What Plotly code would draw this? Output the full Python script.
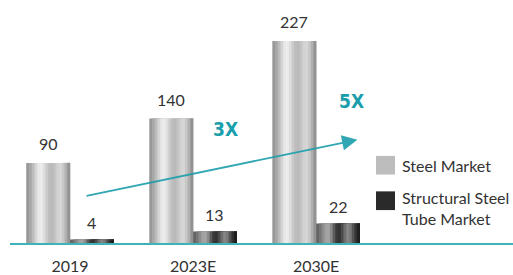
import numpy as np
import plotly.graph_objects as go

categories = ["2019", "2023E", "2030E"]
steel_market = [90, 140, 227]
tube_market = [4, 13, 22]
series_names = ["Steel Market", "Structural Steel<br>Tube Market"]
growth_labels = ["3X", "5X"]

x = np.arange(len(categories))

# cylindrical shading (style only)
steel_shades = ["#989898", "#a8a8a8", "#bcbcbc", "#d4d4d4", "#e8e8e8", "#ececec",
                "#dedede", "#cacaca", "#bdbdbd", "#bababa", "#c4c4c4", "#d2d2d2",
                "#d6d6d6", "#c8c8c8", "#b0b0b0", "#939393"]
tube_shades = ["#646464", "#767676", "#8c8c8c", "#a0a0a0", "#a4a4a4", "#8a8a8a",
               "#5c5c5c", "#3a3a3a", "#333333", "#4c4c4c", "#6e6e6e", "#868686",
               "#7a7a7a", "#545454", "#333333", "#1e1e1e"]

bar_w = 0.356
fig = go.Figure()

def add_shaded(values, shades, start):
    n = len(shades)
    sw = bar_w / n
    for k, c in enumerate(shades):
        fig.add_trace(go.Bar(
            x=x, y=values, width=bar_w - k * sw, offset=start + k * sw,
            marker=dict(color=c, line=dict(width=0)),
            showlegend=False, hoverinfo="skip"))

add_shaded(steel_market, steel_shades, -bar_w)
add_shaded(tube_market, tube_shades, 0.0)

font_fam = "Lato, Open Sans, sans-serif"
# value labels
for i, v in enumerate(steel_market):
    fig.add_annotation(x=x[i] - bar_w / 2, y=v, text=str(v), showarrow=False,
                       yshift=19, font=dict(size=16, color="#333333", family=font_fam))
for i, v in enumerate(tube_market):
    fig.add_annotation(x=x[i] + bar_w / 2, y=v, text=str(v), showarrow=False,
                       yshift=17, font=dict(size=16, color="#333333", family=font_fam))

teal = "#1a9eab"
# growth arrow
fig.add_annotation(x=2.335, y=116, ax=0.122, ay=52.7, axref="x", ayref="y",
                   xref="x", yref="y", text="", showarrow=True,
                   arrowhead=2, arrowsize=1.7, arrowwidth=1.8, arrowcolor=teal,
                   opacity=0.9)
fig.add_annotation(x=1.26, y=128, text="<b>" + growth_labels[0] + "</b>", showarrow=False,
                   font=dict(size=19, color=teal, family="DejaVu Sans Condensed"))
fig.add_annotation(x=2.285, y=159, text="<b>" + growth_labels[1] + "</b>", showarrow=False,
                   font=dict(size=19, color=teal, family="DejaVu Sans Condensed"))

# legend
leg_colors = ["#bdbdbd", "#2a2a2a"]
leg_sq_y = [0.32, 0.174]
leg_txt_y = [0.32, 0.1437]
for c, ys, yt, name in zip(leg_colors, leg_sq_y, leg_txt_y, series_names):
    fig.add_shape(type="rect", xref="paper", yref="paper",
                  x0=0.7276, x1=0.7654, y0=ys - 0.0385, y1=ys + 0.0385,
                  fillcolor=c, line=dict(width=0))
    fig.add_annotation(xref="paper", yref="paper", x=0.775, y=yt,
                       text=name, showarrow=False, xanchor="left", yanchor="middle",
                       align="left",
                       font=dict(size=16, color="#333333", family=font_fam))

fig.update_layout(
    width=513, height=275,
    margin=dict(l=10, r=0, t=0, b=28),
    paper_bgcolor="white", plot_bgcolor="white",
    barmode="overlay", showlegend=False,
    font=dict(family=font_fam, color="#333333"),
    xaxis=dict(range=[-0.488, 3.60], tickvals=list(x), ticktext=categories,
               showgrid=False, zeroline=False, showline=True,
               linecolor="#3fb3bb", linewidth=2,
               ticks="outside", ticklen=8, tickcolor="rgba(0,0,0,0)",
               tickfont=dict(size=16, color="#333333", family=font_fam)),
    yaxis=dict(range=[0, 273], visible=False),
)

fig.write_html("out.html", config={"displayModeBar": False},
               post_script="document.body.style.margin='0px';")
